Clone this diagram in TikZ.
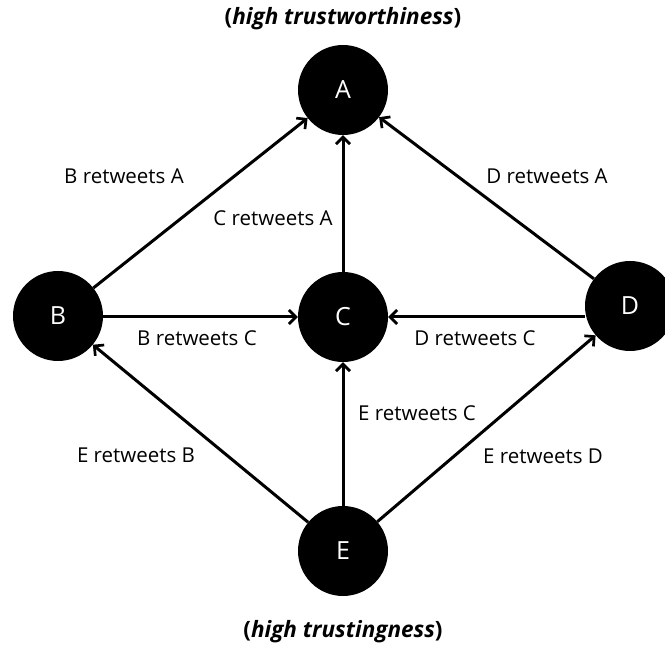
\documentclass[tikz,border=0pt]{standalone}
\usepackage{fontspec}
\setmainfont{Open Sans}
\usetikzlibrary{arrows.meta}
\begin{document}
\begin{tikzpicture}[x=1pt,y=-1pt,
  vert/.style={circle,fill=black,minimum size=90pt,inner sep=0pt,text=white,font=\fontsize{25}{28}\selectfont},
  arr/.style={line width=3pt,-{Straight Barb[length=7pt,width=14pt,line width=2.7pt]}},
  lab/.style={font=\fontsize{20.5}{24}\selectfont,inner sep=0pt},
  ttl/.style={font=\fontsize{22.5}{26}\selectfont\bfseries,inner sep=0pt}]
\clip (0,0) rectangle (665,647);
\useasboundingbox (0,0) rectangle (665,647);
\node[vert] (A) at (343,90) {A};
\node[vert] (B) at (58,316) {B};
\node[vert] (C) at (343,317) {C};
\node[vert] (D) at (630,306) {D};
\node[vert] (E) at (343,551) {E};
\draw[arr] (B) -- (A);
\draw[arr] (C) -- (A);
\draw[arr] (D) -- (A);
\draw[arr] (B.east |- C.west) -- (C.west);
\draw[arr] (D.west |- C.east) -- (C.east);
\draw[arr] (E) -- (C);
\draw[arr] (E) -- (B);
\draw[arr] (E) -- (D);
\node[ttl] (t1) at (343,19) {(\textit{high trustworthiness})};
\node[ttl] (t2) at (343,632) {(\textit{high trustingness})};
\node[lab] (l1) at (124,176) {B retweets A};
\node[lab] (l2) at (273,218) {C retweets A};
\node[lab] (l3) at (547,176) {D retweets A};
\node[lab] (l4) at (197,338) {B retweets C};
\node[lab] (l5) at (475,338) {D retweets C};
\node[lab] (l6) at (417,413) {E retweets C};
\node[lab] (l7) at (136,455) {E retweets B};
\node[lab] (l8) at (543,456) {E retweets D};
\end{tikzpicture}
\end{document}
